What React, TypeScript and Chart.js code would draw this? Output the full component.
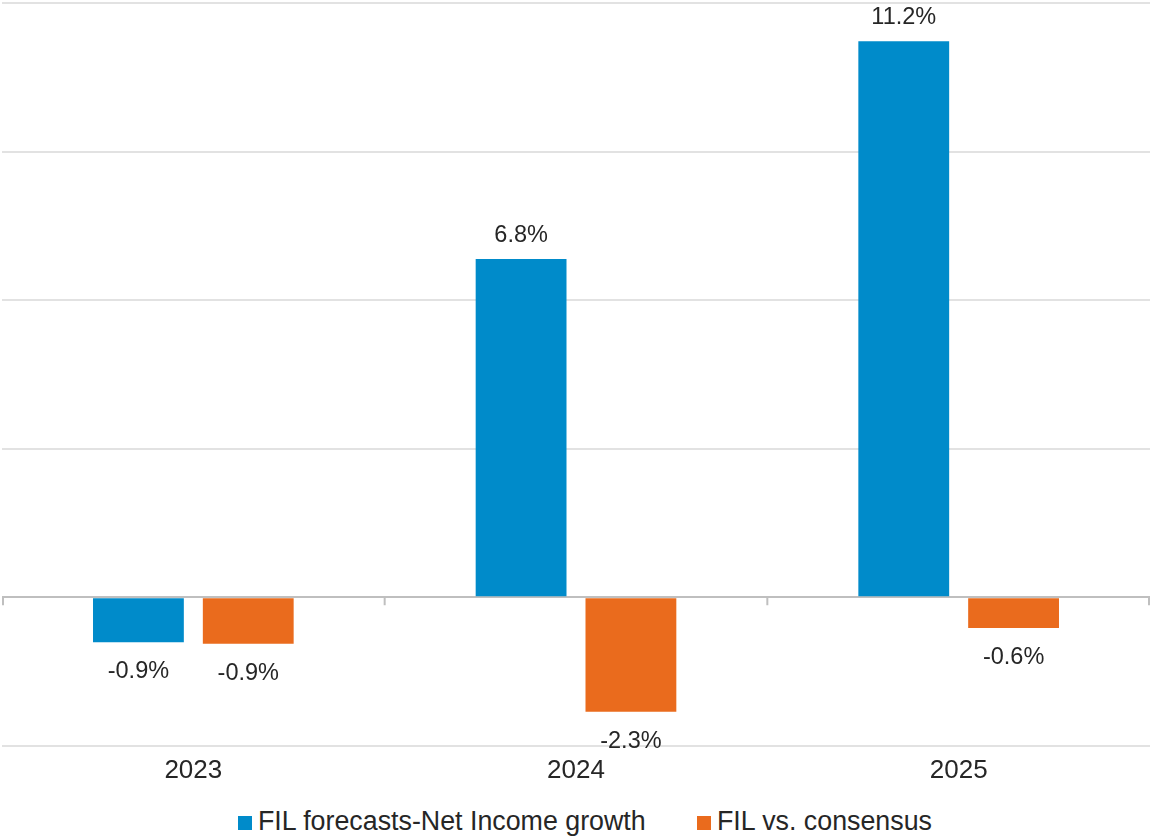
import React, { useEffect, useRef } from "react";
import { Chart, registerables } from "chart.js";

Chart.register(...registerables);

const categories = ["2023", "2024", "2025"];
const seriesNames = ["FIL forecasts-Net Income growth", "FIL vs. consensus"];
const forecastGrowth = [-0.91, 6.83, 11.23];
const vsConsensus = [-0.94, -2.31, -0.62];
const seriesColors = ["#008BCA", "#EA6B1D"];
const yMin = -3;
const yMax = 12;
const yStep = 3;

const FONT = "'Liberation Sans', Arial, sans-serif";
const TEXT = "#262626";

const dataLabelPlugin = {
  id: "dataLabels",
  afterDatasetsDraw(chart: any) {
    const ctx = chart.ctx;
    ctx.save();
    ctx.font = `23.5px ${FONT}`;
    ctx.fillStyle = TEXT;
    ctx.textAlign = "center";
    ctx.textBaseline = "alphabetic";
    chart.data.datasets.forEach((ds: any, di: number) => {
      const meta = chart.getDatasetMeta(di);
      meta.data.forEach((bar: any, i: number) => {
        const v = ds.data[i] as number;
        const label = v.toFixed(1) + "%";
        if (v >= 0) {
          ctx.fillText(label, bar.x, bar.y - 17);
        } else {
          ctx.fillText(label, bar.x, bar.y + 36);
        }
      });
    });
    ctx.restore();
  },
};

const zeroTickPlugin = {
  id: "zeroTicks",
  afterDraw(chart: any) {
    const x = chart.scales.x;
    const y = chart.scales.y;
    const ctx = chart.ctx;
    const y0 = y.getPixelForValue(0);
    const n = chart.data.labels.length;
    const edges: number[] = [chart.chartArea.left + 1];
    for (let i = 1; i < n; i++) {
      edges.push((x.getPixelForValue(i - 1) + x.getPixelForValue(i)) / 2);
    }
    edges.push(chart.chartArea.right - 1);
    ctx.save();
    ctx.strokeStyle = "#bfbfbf";
    ctx.lineWidth = 2;
    edges.forEach((ex) => {
      ctx.beginPath();
      ctx.moveTo(ex, y0);
      ctx.lineTo(ex, y0 + 8);
      ctx.stroke();
    });
    ctx.restore();
  },
};

export default function App() {
  const ref = useRef<HTMLCanvasElement | null>(null);
  useEffect(() => {
    if (!ref.current) return;
    const chart = new Chart(ref.current, {
      type: "bar",
      data: {
        labels: categories,
        datasets: [
          {
            label: seriesNames[0],
            data: forecastGrowth,
            backgroundColor: seriesColors[0],
            categoryPercentage: 0.574,
            barPercentage: 0.827,
          },
          {
            label: seriesNames[1],
            data: vsConsensus,
            backgroundColor: seriesColors[1],
            categoryPercentage: 0.574,
            barPercentage: 0.827,
          },
        ],
      },
      options: {
        animation: false,
        responsive: false,
        maintainAspectRatio: false,
        layout: { padding: { top: 3, left: 2, right: 2, bottom: 0 } },
        plugins: {
          legend: { display: false },
          tooltip: { enabled: false },
        },
        scales: {
          x: {
            grid: { display: false, drawTicks: false },
            border: { display: false },
            ticks: {
              font: { family: FONT, size: 26 },
              color: TEXT,
              padding: 9,
            },
          },
          y: {
            min: yMin,
            max: yMax,
            ticks: { display: false, stepSize: yStep },
            border: { display: false },
            grid: {
              drawTicks: false,
              lineWidth: 2,
              color: (c: any) => (c.tick && c.tick.value === 0 ? "#bfbfbf" : "#e2e2e2"),
            },
          },
        },
      },
      plugins: [dataLabelPlugin, zeroTickPlugin],
    });
    return () => chart.destroy();
  }, []);

  const legendItem = (name: string, color: string, left: number) => (
    <div
      key={name}
      style={{
        position: "absolute",
        left,
        top: 0,
        whiteSpace: "nowrap",
        font: `26.8px ${FONT}`,
        lineHeight: "30px",
        color: TEXT,
      }}
    >
      <span
        style={{
          display: "inline-block",
          width: 14,
          height: 14,
          background: color,
          marginRight: 6,
          verticalAlign: "baseline",
        }}
      />
      {name}
    </div>
  );

  return (
    <div
      style={{
        position: "fixed",
        left: 0,
        top: 0,
        width: 1152,
        height: 836,
        background: "#ffffff",
      }}
    >
      <canvas ref={ref} width={1152} height={795} style={{ display: "block" }} />
      <div style={{ position: "absolute", left: 0, top: 806, width: 1152, height: 30 }}>
        {legendItem(seriesNames[0], seriesColors[0], 238)}
        {legendItem(seriesNames[1], seriesColors[1], 697)}
      </div>
    </div>
  );
}
